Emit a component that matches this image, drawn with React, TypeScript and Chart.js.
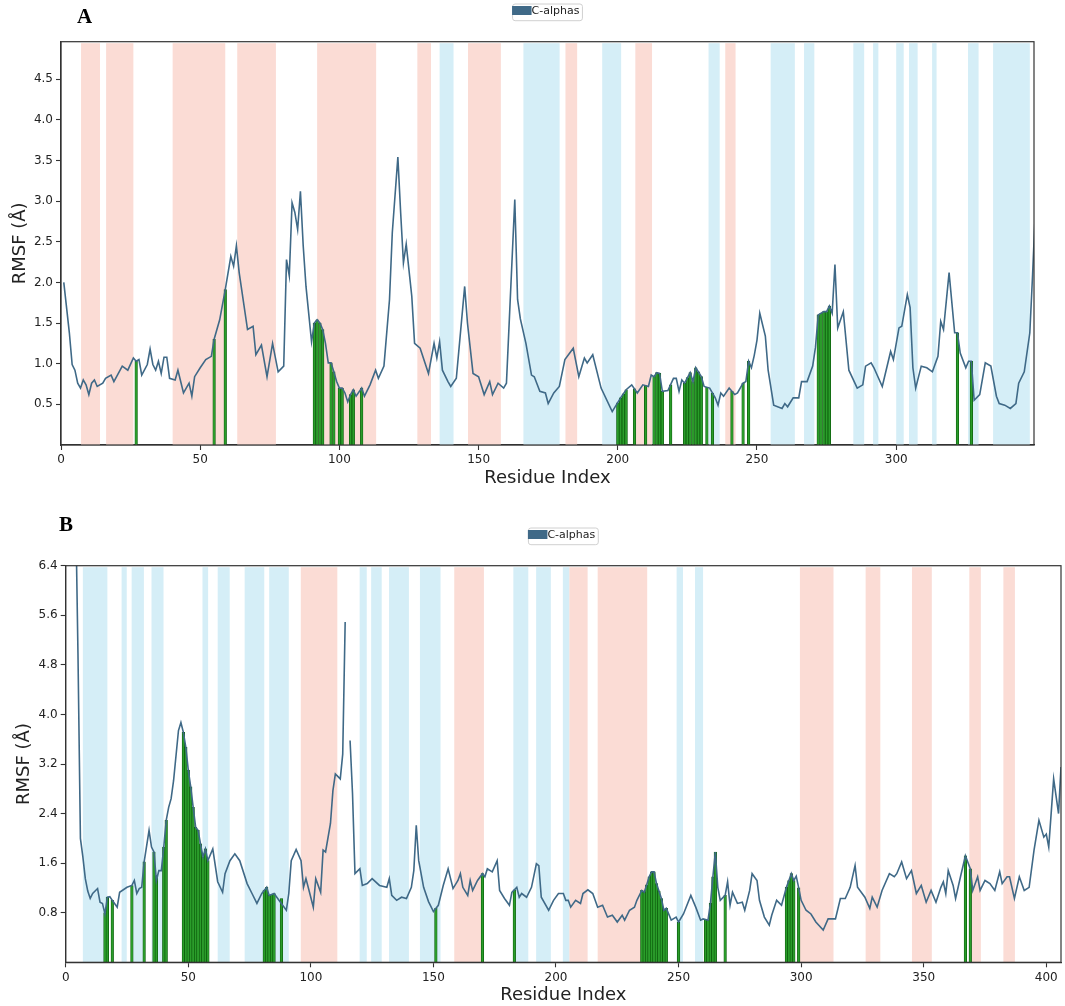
import React, { useEffect, useRef } from "react";
import { Chart, registerables } from "chart.js";

Chart.register(...registerables);

// ---------------- Panel A data ----------------
const A_RESIDUE = [
  1, 3, 4, 5, 6, 7, 8, 9, 10, 11,
  12, 13, 15, 16, 18, 19, 22, 24, 26, 27,
  28, 29, 31, 32, 33, 34, 35, 36, 37, 38,
  39, 41, 42, 44, 46, 47, 48, 50, 52, 54,
  55, 57, 59, 61, 62, 63, 64, 67, 69, 70,
  72, 74, 76, 78, 80, 81, 82, 83, 84, 85,
  86, 87, 88, 90, 91, 92, 93, 94, 95, 96,
  97, 98, 99, 100, 101, 102, 103, 104, 105, 106,
  108, 109, 111, 113, 114, 116, 118, 119, 121, 122,
  123, 124, 126, 127, 129, 132, 134, 135, 136, 137,
  139, 140, 142, 145, 146, 148, 150, 152, 154, 155,
  157, 159, 160, 163, 164, 165, 167, 169, 170, 172,
  174, 175, 177, 179, 181, 184, 186, 188, 189, 191,
  194, 198, 201, 203, 205, 207, 209, 211, 212, 213,
  214, 215, 216, 218, 220, 221, 222, 223, 224, 226,
  227, 228, 230, 231, 233, 235, 236, 237, 238, 240,
  242, 243, 245, 246, 247, 248, 249, 250, 251, 253,
  254, 256, 259, 260, 261, 263, 265, 266, 268, 270,
  271, 272, 274, 275, 276, 277, 278, 279, 281, 283,
  286, 288, 289, 291, 292, 295, 298, 299, 301, 302,
  304, 305, 306, 307, 309, 311, 313, 315, 316, 317,
  319, 321, 322, 323, 325, 326, 327, 328, 330, 332,
  334, 336, 337, 339, 341, 343, 344, 346, 348, 349,
  350,
];
const A_RMSF = [
  2.0, 1.38, 0.99, 0.92, 0.76, 0.7, 0.8, 0.74, 0.62, 0.76,
  0.8, 0.72, 0.76, 0.82, 0.86, 0.78, 0.97, 0.92, 1.07, 1.03,
  1.05, 0.86, 0.99, 1.18, 0.99, 0.92, 1.03, 0.88, 1.08, 1.08,
  0.82, 0.8, 0.92, 0.64, 0.76, 0.6, 0.84, 0.95, 1.05, 1.09,
  1.3, 1.54, 1.91, 2.32, 2.2, 2.45, 2.12, 1.42, 1.46, 1.11,
  1.23, 0.84, 1.25, 0.9, 0.97, 2.28, 2.08, 2.98, 2.86, 2.65,
  3.12, 2.45, 1.95, 1.27, 1.5, 1.54, 1.5, 1.42, 1.25, 1.01,
  1.01, 0.9, 0.78, 0.7, 0.7, 0.64, 0.53, 0.62, 0.68, 0.6,
  0.7, 0.6, 0.74, 0.92, 0.82, 0.97, 1.79, 2.61, 3.54, 2.86,
  2.24, 2.47, 1.83, 1.25, 1.19, 0.88, 1.25, 1.07, 1.27, 0.92,
  0.78, 0.72, 0.82, 1.95, 1.5, 0.88, 0.84, 0.62, 0.78, 0.62,
  0.76, 0.7, 0.76, 3.02, 1.79, 1.55, 1.25, 0.86, 0.84, 0.66,
  0.64, 0.51, 0.64, 0.72, 1.05, 1.19, 0.84, 1.07, 1.01, 1.11,
  0.7, 0.41, 0.58, 0.68, 0.74, 0.64, 0.74, 0.72, 0.86, 0.84,
  0.89, 0.88, 0.66, 0.67, 0.82, 0.82, 0.66, 0.8, 0.76, 0.89,
  0.78, 0.95, 0.84, 0.72, 0.7, 0.58, 0.49, 0.64, 0.6, 0.7,
  0.62, 0.64, 0.76, 0.78, 1.03, 0.95, 1.1, 1.29, 1.62, 1.34,
  0.92, 0.49, 0.45, 0.51, 0.47, 0.58, 0.58, 0.78, 0.78, 0.97,
  1.2, 1.6, 1.64, 1.64, 1.71, 1.62, 2.22, 1.44, 1.64, 0.92,
  0.7, 0.74, 0.97, 1.01, 0.95, 0.72, 1.15, 1.05, 1.44, 1.46,
  1.85, 1.69, 0.95, 0.7, 0.97, 0.95, 0.9, 1.09, 1.52, 1.42,
  2.12, 1.38, 1.38, 1.13, 0.95, 1.03, 1.03, 0.55, 0.62, 1.01,
  0.97, 0.6, 0.51, 0.49, 0.45, 0.51, 0.76, 0.9, 1.38, 2.1,
  2.9,
];
const A_CONTACT_RESIDUE = [
  27, 55, 59, 91, 92, 93, 94, 97, 98, 100, 101, 104, 105, 108,
  200, 201, 202, 203, 206, 210, 213, 214, 215, 216, 219,
  224, 225, 226, 227, 228, 229, 230, 232, 234, 241, 245, 247,
  272, 273, 274, 275, 276, 322, 327,
];
const A_CONTACT_RMSF = [
  1.03, 1.3, 1.91, 1.5, 1.54, 1.5, 1.42, 1.01, 0.9, 0.7, 0.7, 0.62, 0.68, 0.7,
  0.52, 0.58, 0.63, 0.68, 0.69, 0.73, 0.84, 0.89, 0.88, 0.66, 0.74,
  0.76, 0.83, 0.89, 0.78, 0.95, 0.9, 0.84, 0.71, 0.64, 0.66, 0.76, 1.03,
  1.6, 1.62, 1.64, 1.64, 1.71, 1.38, 1.03,
];
const A_HELIX: [number, number][] = [
  [7.2, 14], [16.2, 26], [40.1, 59], [63.3, 77.2], [92, 113.2], [128, 132.9],
  [146.2, 158], [181.2, 185.4], [206.3, 212.3], [238.6, 242.3],
];
const A_STRAND: [number, number][] = [
  [136, 141], [166.1, 179.1], [194.4, 201.2], [232.6, 236.6], [254.9, 263.6],
  [266.9, 270.6], [284.6, 288.5], [291.7, 293.6], [300, 302.7], [304.6, 307.7],
  [312.9, 314.5], [325.8, 329.6], [334.8, 348],
];
const A_X_TICKS = [0, 50, 100, 150, 200, 250, 300];
const A_Y_TICKS = [0.5, 1.0, 1.5, 2.0, 2.5, 3.0, 3.5, 4.0, 4.5];

// ---------------- Panel B data ----------------
const B_RESIDUE = [
  4, 5, 6, 7, 8, 9, 10, 11, 13, 14,
  15, 16, 17, 18, 19, 21, 22, 25, 27, 28,
  29, 30, 31, 32, 34, 35, 36, 37, 38, 39,
  40, 41, 42, 43, 44, 46, 47, 48, 49, 50,
  51, 52, 53, 54, 55, 56, 57, 58, 60, 62,
  64, 65, 67, 69, 71, 74, 76, 78, 80, 82,
  83, 85, 87, 90, 91, 92, 94, 96, 97, 98,
  99, 101, 102, 104, 105, 106, 108, 109, 110, 112,
  113, 114, 115, 116, 117, 118, 120, 121, 123, 125,
  128, 131, 132, 133, 135, 137, 139, 141, 142, 143,
  144, 146, 148, 150, 152, 154, 156, 157, 158, 160,
  161, 162, 164, 165, 166, 168, 170, 171, 172, 174,
  176, 177, 179, 181, 182, 184, 185, 186, 188, 190,
  191, 192, 193, 194, 197, 199, 201, 203, 204, 205,
  206, 208, 210, 211, 213, 215, 217, 219, 221, 223,
  225, 227, 228, 230, 232, 233, 235, 236, 237, 238,
  239, 240, 241, 242, 243, 244, 245, 247, 249, 250,
  252, 255, 257, 259, 260, 261, 262, 263, 264, 265,
  266, 267, 269, 270, 271, 272, 274, 276, 277, 279,
  280, 282, 283, 285, 287, 288, 290, 292, 294, 295,
  296, 297, 298, 299, 300, 302, 304, 306, 309, 311,
  314, 316, 318, 320, 322, 323, 326, 328, 329, 331,
  333, 336, 338, 339, 341, 343, 345, 347, 349, 351,
  353, 355, 357, 358, 359, 360, 362, 363, 365, 367,
  369, 370, 372, 373, 375, 377, 379, 381, 382, 384,
  385, 387, 389, 391, 393, 395, 397, 399, 400, 401,
  403, 405, 406,
];
const B_RMSF: (number | null)[] = [
  7.5, 5.0, 2.0, 1.7, 1.35, 1.15, 1.03, 1.11, 1.19, 0.97,
  0.95, 0.78, 1.05, 1.06, 1.0, 0.89, 1.13, 1.21, 1.24, 1.32,
  1.11, 1.19, 1.21, 1.62, 2.13, 1.86, 1.78, 1.32, 1.48, 1.48,
  1.86, 2.29, 2.5, 2.64, 2.93, 3.74, 3.87, 3.71, 3.47, 3.1,
  2.83, 2.5, 2.18, 2.13, 1.91, 1.7, 1.83, 1.64, 1.83, 1.3,
  1.13, 1.43, 1.64, 1.75, 1.64, 1.27, 1.11, 0.95, 1.11, 1.21,
  1.08, 1.11, 1.0, 0.84, 1.11, 1.64, 1.82, 1.64, 1.21, 1.35,
  1.2, 0.89, 1.35, 1.13, 1.81, 1.78, 2.24, 2.77, 3.04, 2.96,
  3.36, 5.49, null, 3.58, 2.72, 1.43, 1.51, 1.24, 1.27, 1.35,
  1.24, 1.21, 1.35, 1.08, 1.0, 1.05, 1.03, 1.21, 1.48, 2.21,
  1.64, 1.21, 0.98, 0.82, 0.92, 1.24, 1.51, 1.35, 1.19, 1.32,
  1.43, 1.21, 1.08, 1.32, 1.16, 1.32, 1.43, 1.38, 1.51, 1.46,
  1.64, 1.16, 1.03, 0.92, 1.13, 1.21, 1.05, 1.11, 1.05, 1.21,
  1.4, 1.59, 1.56, 1.05, 0.84, 1.0, 1.11, 1.11, 1.0, 1.0,
  0.89, 1.0, 0.95, 1.11, 1.17, 1.11, 0.89, 0.92, 0.73, 0.76,
  0.65, 0.76, 0.68, 0.84, 0.89, 1.0, 1.16, 1.13, 1.25, 1.38,
  1.46, 1.46, 1.27, 1.15, 1.03, 0.84, 0.87, 0.68, 0.73, 0.65,
  0.78, 1.08, 0.89, 0.68, 0.7, 0.69, 0.68, 0.95, 1.38, 1.78,
  1.21, 1.0, 1.08, 1.3, 0.92, 1.13, 0.95, 0.97, 0.84, 1.16,
  1.43, 1.32, 1.0, 0.73, 0.6, 0.76, 1.0, 0.92, 1.21, 1.32,
  1.43, 1.32, 1.39, 1.2, 1.0, 0.84, 0.78, 0.65, 0.52, 0.7,
  0.7, 1.03, 1.03, 1.21, 1.56, 1.21, 1.05, 0.87, 1.05, 0.89,
  1.16, 1.43, 1.38, 1.43, 1.62, 1.35, 1.48, 1.11, 1.24, 0.97,
  1.16, 0.97, 1.21, 1.3, 1.11, 1.48, 1.24, 1.03, 1.38, 1.72,
  1.51, 1.16, 1.38, 1.16, 1.32, 1.27, 1.16, 1.46, 1.27, 1.38,
  1.38, 1.03, 1.38, 1.16, 1.21, 1.81, 2.29, 2.02, 2.07, 1.86,
  2.96, 2.4, 3.15,
];
const B_CONTACT_RESIDUE = [
  16, 17, 19, 27, 32, 36, 37, 40, 41, 48, 49, 50, 51, 52, 53, 54, 55, 56, 57, 58,
  81, 82, 83, 84, 85, 88, 151, 170, 183,
  235, 236, 237, 238, 239, 240, 241, 242, 243, 244, 245, 250,
  261, 262, 263, 264, 265, 269, 294, 295, 296, 297, 299, 367, 369,
];
const B_CONTACT_RMSF = [
  0.8, 1.05, 1.0, 1.24, 1.62, 1.78, 1.4, 1.86, 2.29, 3.71, 3.47, 3.1, 2.83, 2.5, 2.18, 2.13, 1.91, 1.7, 1.83, 1.64,
  1.16, 1.21, 1.08, 1.09, 1.11, 1.03, 0.87, 1.43, 1.17,
  1.16, 1.13, 1.25, 1.38, 1.46, 1.46, 1.27, 1.15, 1.03, 0.84, 0.87, 0.65,
  0.69, 0.68, 0.95, 1.38, 1.78, 1.08, 1.21, 1.32, 1.43, 1.32, 1.2, 1.72, 1.51,
];
const B_HELIX: [number, number][] = [
  [95.9, 110.8], [158.5, 170.6], [205.4, 212.9], [217, 237.2], [299.5, 313.2],
  [326.3, 332.3], [345.2, 353.3], [368.6, 373.3], [382.5, 387.2],
];
const B_STRAND: [number, number][] = [
  [7, 17], [22.8, 24.9], [26.9, 31.9], [35, 39.9], [55.8, 58.1], [62, 66.9],
  [73, 81], [83, 91], [119.9, 122.8], [124.6, 128.9], [131.9, 140], [144.5, 152.9],
  [182.6, 188.7], [191.9, 197.9], [202.8, 205.4], [249.2, 251.8], [256.7, 260],
];
const B_X_TICKS = [0, 50, 100, 150, 200, 250, 300, 350, 400];
const B_Y_TICKS = [0.8, 1.6, 2.4, 3.2, 4.0, 4.8, 5.6, 6.4];

// ---------------- styling ----------------
const FONT = "'DejaVu Sans', 'Liberation Sans', sans-serif";
const LINE_COLOR = "#3f6987";
const HELIX_COLOR = "#fbdcd5";
const STRAND_COLOR = "#d5eef7";
const STEM_FILL = "#2a9d2a";
const STEM_EDGE = "#0b5a0b";
const AXIS_COLOR = "#333333";
const TEXT_COLOR = "#222222";

const bandsPlugin = {
  id: "ssBands",
  beforeDatasetsDraw(chart: any, _args: any, opts: any) {
    const { ctx, chartArea } = chart;
    const x = chart.scales.x;
    const { top, bottom, left, right } = chartArea;
    ctx.save();
    ctx.beginPath();
    ctx.rect(left, top, right - left, bottom - top);
    ctx.clip();
    const draw = (spans: [number, number][], color: string) => {
      ctx.fillStyle = color;
      for (const [s, e] of spans) {
        const x0 = x.getPixelForValue(s);
        const x1 = x.getPixelForValue(e);
        ctx.fillRect(x0, top + 1.5, x1 - x0, bottom - top - 1.5);
      }
    };
    draw(opts.helix || [], HELIX_COLOR);
    draw(opts.strand || [], STRAND_COLOR);
    ctx.restore();
  },
};

const framePlugin = {
  id: "frameBox",
  afterDatasetsDraw(chart: any) {
    const { ctx, chartArea } = chart;
    const { top, bottom, left, right } = chartArea;
    ctx.save();
    ctx.strokeStyle = AXIS_COLOR;
    ctx.lineWidth = 1.2;
    ctx.strokeRect(left, top, right - left, bottom - top);
    ctx.restore();
  },
};

const legendPlugin = {
  id: "caLegend",
  afterDraw(chart: any) {
    const { ctx, chartArea } = chart;
    const ds = chart.data.datasets[0];
    const label: string = ds.label;
    ctx.save();
    ctx.font = `11px ${FONT}`;
    const tw = ctx.measureText(label).width;
    const patchW = 19;
    const w = patchW + tw + 3;
    const h = 16.7;
    const bx = (chartArea.left + chartArea.right) / 2 - w / 2;
    const by = chartArea.top - 37.7;
    ctx.beginPath();
    const r = 2.5;
    ctx.moveTo(bx + r, by);
    ctx.lineTo(bx + w - r, by);
    ctx.quadraticCurveTo(bx + w, by, bx + w, by + r);
    ctx.lineTo(bx + w, by + h - r);
    ctx.quadraticCurveTo(bx + w, by + h, bx + w - r, by + h);
    ctx.lineTo(bx + r, by + h);
    ctx.quadraticCurveTo(bx, by + h, bx, by + h - r);
    ctx.lineTo(bx, by + r);
    ctx.quadraticCurveTo(bx, by, bx + r, by);
    ctx.closePath();
    ctx.fillStyle = "rgba(255,255,255,0.9)";
    ctx.fill();
    ctx.strokeStyle = "#d0d0d0";
    ctx.lineWidth = 1;
    ctx.stroke();
    ctx.fillStyle = ds.borderColor;
    ctx.fillRect(bx - 0.5, by + 2, patchW + 0.5, 9);
    ctx.fillStyle = TEXT_COLOR;
    ctx.textBaseline = "middle";
    ctx.textAlign = "left";
    ctx.fillText(label, bx + patchW, by + 7.5);
    ctx.restore();
  },
};

type PanelSpec = {
  top: number;
  height: number;
  residue: number[];
  rmsf: (number | null)[];
  contactResidue: number[];
  contactRmsf: number[];
  helix: [number, number][];
  strand: [number, number][];
  xTicks: number[];
  yTicks: number[];
  xMax: number;
  yMax: number;
  padTop: number;
  padRight: number;
  yAxisW: number;
  xAxisH: number;
  xTitlePad: number;
  yTitlePad: number;
};

function buildConfig(s: PanelSpec): any {
  const lineData = s.residue.map((x, i) => ({ x, y: s.rmsf[i] }));
  const stemData = s.contactResidue.map((x, i) => ({ x, y: s.contactRmsf[i] }));
  const tickGrid = {
    display: true,
    drawOnChartArea: false,
    drawTicks: true,
    tickLength: 5,
    tickWidth: 1.1,
    color: AXIS_COLOR,
    offset: false,
  };
  return {
    type: "line",
    data: {
      datasets: [
        {
          type: "line",
          label: "C-alphas",
          data: lineData,
          borderColor: LINE_COLOR,
          backgroundColor: LINE_COLOR,
          borderWidth: 1.6,
          pointRadius: 0,
          tension: 0,
          spanGaps: false,
          clip: 0,
          order: 0,
        },
        {
          type: "bar",
          label: "Protein contacts",
          data: stemData,
          backgroundColor: STEM_FILL,
          borderColor: STEM_EDGE,
          borderWidth: 0.7,
          barThickness: 2.6,
          clip: 0,
          order: 1,
        },
      ],
    },
    options: {
      responsive: false,
      animation: false,
      events: [],
      layout: { padding: { top: s.padTop, right: s.padRight, left: 0, bottom: 0 } },
      plugins: {
        legend: { display: false },
        tooltip: { enabled: false },
        ssBands: { helix: s.helix, strand: s.strand },
      },
      scales: {
        x: {
          type: "linear",
          min: 0,
          max: s.xMax,
          offset: false,
          afterBuildTicks: (sc: any) => {
            sc.ticks = s.xTicks.map((v) => ({ value: v }));
          },
          afterFit: (sc: any) => {
            sc.height = s.xAxisH;
          },
          grid: tickGrid,
          border: { display: true, color: AXIS_COLOR, width: 1.2 },
          ticks: {
            color: TEXT_COLOR,
            font: { family: FONT, size: 12 },
            padding: 3,
            maxRotation: 0,
            autoSkip: false,
            callback: (v: any) => String(v),
          },
          title: {
            display: true,
            text: "Residue Index",
            color: TEXT_COLOR,
            font: { family: FONT, size: 18 },
            padding: { top: 0, bottom: s.xTitlePad },
          },
        },
        y: {
          type: "linear",
          min: 0,
          max: s.yMax,
          afterBuildTicks: (sc: any) => {
            sc.ticks = s.yTicks.map((v) => ({ value: v }));
          },
          afterFit: (sc: any) => {
            sc.width = s.yAxisW;
          },
          grid: tickGrid,
          border: { display: true, color: AXIS_COLOR, width: 1.2 },
          ticks: {
            color: TEXT_COLOR,
            font: { family: FONT, size: 12 },
            padding: 3,
            autoSkip: false,
            callback: (v: any) => Number(v).toFixed(1),
          },
          title: {
            display: true,
            text: "RMSF (Å)",
            color: TEXT_COLOR,
            font: { family: FONT, size: 18 },
            padding: { top: s.yTitlePad, bottom: 0 },
          },
        },
      },
    },
    plugins: [bandsPlugin, framePlugin, legendPlugin],
  };
}

const PANEL_A: PanelSpec = {
  top: 0,
  height: 500,
  residue: A_RESIDUE,
  rmsf: A_RMSF,
  contactResidue: A_CONTACT_RESIDUE,
  contactRmsf: A_CONTACT_RMSF,
  helix: A_HELIX,
  strand: A_STRAND,
  xTicks: A_X_TICKS,
  yTicks: A_Y_TICKS,
  xMax: 349.5,
  yMax: 4.96,
  padTop: 41.7,
  padRight: 31,
  yAxisW: 61,
  xAxisH: 55,
  xTitlePad: 11.2,
  yTitlePad: 10,
};

const PANEL_B: PanelSpec = {
  top: 500,
  height: 506,
  residue: B_RESIDUE,
  rmsf: B_RMSF,
  contactResidue: B_CONTACT_RESIDUE,
  contactRmsf: B_CONTACT_RMSF,
  helix: B_HELIX,
  strand: B_STRAND,
  xTicks: B_X_TICKS,
  yTicks: B_Y_TICKS,
  xMax: 406,
  yMax: 6.4,
  padTop: 65.7,
  padRight: 4,
  yAxisW: 65.7,
  xAxisH: 43.7,
  xTitlePad: 0,
  yTitlePad: 13.2,
};

function Panel({ spec }: { spec: PanelSpec }) {
  const ref = useRef<HTMLCanvasElement | null>(null);
  useEffect(() => {
    if (!ref.current) return;
    const chart = new Chart(ref.current, buildConfig(spec));
    return () => chart.destroy();
  }, [spec]);
  return (
    <canvas
      ref={ref}
      width={1065}
      height={spec.height}
      style={{ position: "absolute", left: 0, top: spec.top, width: 1065, height: spec.height }}
    />
  );
}

const labelStyle: React.CSSProperties = {
  position: "absolute",
  fontFamily: "'Liberation Serif', 'DejaVu Serif', serif",
  fontWeight: "bold",
  fontSize: 21,
  lineHeight: "21px",
  color: "#000",
};

export default function App() {
  return (
    <div style={{ position: "absolute", left: 0, top: 0, width: 1065, height: 1006, background: "#fff", overflow: "hidden" }}>
      <Panel spec={PANEL_A} />
      <Panel spec={PANEL_B} />
      <div style={{ ...labelStyle, left: 77, top: 6.3 }}>A</div>
      <div style={{ ...labelStyle, left: 59, top: 514.3 }}>B</div>
    </div>
  );
}
